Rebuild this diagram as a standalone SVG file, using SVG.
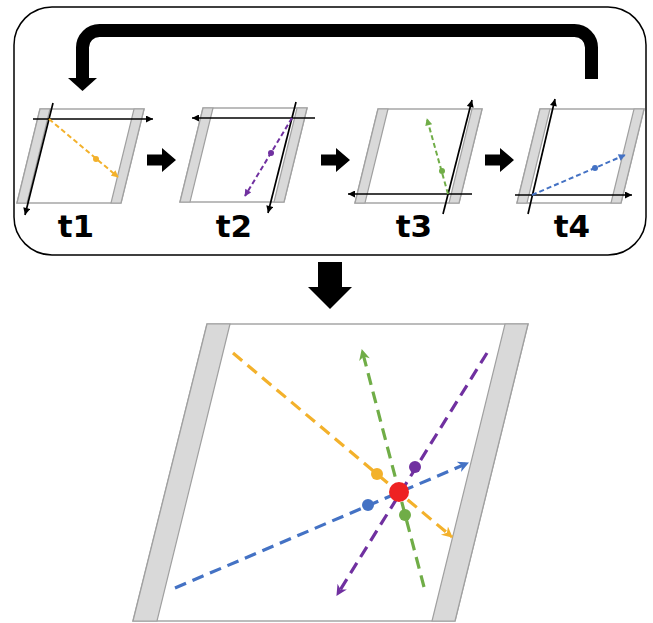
<svg xmlns="http://www.w3.org/2000/svg" width="653" height="623" viewBox="0 0 653 623">
<style>
.frame{fill:#fff;stroke:#a6a6a6;stroke-width:1.5}
.strip{fill:#d9d9d9;stroke:#a0a0a0;stroke-width:1.2}
.axis{fill:none;stroke:#000;stroke-width:1.7}
.sd{fill:none;stroke-width:2;stroke-dasharray:5 3}
.bd{fill:none;stroke-width:3.2;stroke-dasharray:12 7}
.lbl{font-family:"DejaVu Sans","Liberation Sans",sans-serif;font-weight:bold;font-size:31px;text-anchor:middle;fill:#000}
.or{stroke:#F3B12B}.pu{stroke:#7030A0}.gr{stroke:#70AD47}.bl{stroke:#4472C4}
</style>
<defs>
<marker id="mk" viewBox="0 0 10 10" refX="10" refY="5" markerWidth="8" markerHeight="7" markerUnits="userSpaceOnUse" orient="auto"><path d="M0,0L10,5L0,10z" fill="#000"/></marker>
<marker id="mo" viewBox="0 0 10 10" refX="9" refY="5" markerWidth="8" markerHeight="7" markerUnits="userSpaceOnUse" orient="auto"><path d="M0,0L10,5L0,10z" fill="#F3B12B"/></marker>
<marker id="mp" viewBox="0 0 10 10" refX="9" refY="5" markerWidth="8" markerHeight="7" markerUnits="userSpaceOnUse" orient="auto"><path d="M0,0L10,5L0,10z" fill="#7030A0"/></marker>
<marker id="mg" viewBox="0 0 10 10" refX="9" refY="5" markerWidth="8" markerHeight="7" markerUnits="userSpaceOnUse" orient="auto"><path d="M0,0L10,5L0,10z" fill="#70AD47"/></marker>
<marker id="mb" viewBox="0 0 10 10" refX="9" refY="5" markerWidth="8" markerHeight="7" markerUnits="userSpaceOnUse" orient="auto"><path d="M0,0L10,5L0,10z" fill="#4472C4"/></marker>
<marker id="Mo" viewBox="0 0 10 10" refX="9" refY="5" markerWidth="13" markerHeight="11" markerUnits="userSpaceOnUse" orient="auto"><path d="M0,0L10,5L0,10L3,5z" fill="#F3B12B"/></marker>
<marker id="Mp" viewBox="0 0 10 10" refX="9" refY="5" markerWidth="13" markerHeight="11" markerUnits="userSpaceOnUse" orient="auto"><path d="M0,0L10,5L0,10L3,5z" fill="#7030A0"/></marker>
<marker id="Mg" viewBox="0 0 10 10" refX="9" refY="5" markerWidth="13" markerHeight="11" markerUnits="userSpaceOnUse" orient="auto"><path d="M0,0L10,5L0,10L3,5z" fill="#70AD47"/></marker>
<marker id="Mb" viewBox="0 0 10 10" refX="9" refY="5" markerWidth="13" markerHeight="11" markerUnits="userSpaceOnUse" orient="auto"><path d="M0,0L10,5L0,10L3,5z" fill="#4472C4"/></marker>
<g id="panel">
<polygon class="frame" points="0,0 104,0 81,94 -23,94"/>
<polygon class="strip" points="0,0 10,0 -13,94 -23,94"/>
<polygon class="strip" points="94,0 104,0 81,94 71,94"/>
</g>
<polygon id="blk" points="0,-5.5 15,-5.5 15,-12 29,0 15,12 15,5.5 0,5.5" fill="#000"/>
</defs>

<rect x="14" y="7" width="632" height="248" rx="38" fill="#fff" stroke="#000" stroke-width="1.5"/>

<g id="loop-arrow">
<path d="M591.5,79V47.5A17,17 0 0 0 574.5,30.5H99.5A17,17 0 0 0 82.5,47.5V79" fill="none" stroke="#000" stroke-width="13"/>
<polygon points="68,78 97,78 82.5,91" fill="#000"/>
</g>

<g id="t1">
<use href="#panel" x="40" y="109"/>
<line class="axis" x1="33" y1="119" x2="153" y2="119" marker-end="url(#mk)"/>
<line class="axis" x1="53" y1="103" x2="25" y2="215" marker-end="url(#mk)"/>
<line class="sd or" x1="49" y1="119" x2="118" y2="177" marker-end="url(#mo)"/>
<circle cx="96" cy="159" r="3" fill="#F3B12B"/>
<text class="lbl" x="76" y="237">t1</text>
</g>

<g id="t2">
<use href="#panel" x="203" y="108"/>
<line class="axis" x1="315" y1="118" x2="192" y2="118" marker-end="url(#mk)"/>
<line class="axis" x1="296" y1="102" x2="268" y2="213" marker-end="url(#mk)"/>
<line class="sd pu" x1="292" y1="118" x2="245" y2="196" marker-end="url(#mp)"/>
<circle cx="271" cy="153" r="3" fill="#7030A0"/>
<text class="lbl" x="234" y="237">t2</text>
</g>

<g id="t3">
<use href="#panel" x="378" y="109"/>
<line class="axis" x1="472" y1="194" x2="348" y2="194" marker-end="url(#mk)"/>
<line class="axis" x1="443" y1="214" x2="472" y2="100" marker-end="url(#mk)"/>
<line class="sd gr" x1="448" y1="194" x2="427" y2="119" marker-end="url(#mg)"/>
<circle cx="442" cy="171" r="3" fill="#70AD47"/>
<text class="lbl" x="414" y="237">t3</text>
</g>

<g id="t4">
<use href="#panel" x="540" y="109"/>
<line class="axis" x1="515" y1="195" x2="632" y2="195" marker-end="url(#mk)"/>
<line class="axis" x1="528" y1="214" x2="555" y2="99" marker-end="url(#mk)"/>
<line class="sd bl" x1="532" y1="195" x2="625" y2="155" marker-end="url(#mb)"/>
<circle cx="595" cy="168" r="3" fill="#4472C4"/>
<text class="lbl" x="572" y="237">t4</text>
</g>

<g id="connectors">
<use href="#blk" x="147" y="160"/>
<use href="#blk" x="321" y="160"/>
<use href="#blk" x="485" y="160"/>
<polygon points="318,262 342,262 342,287 352,287 330,309 308,287 318,287" fill="#000"/>
</g>

<g id="result">
<polygon class="frame" points="207,324 528,324 455,621 133,621"/>
<polygon class="strip" points="207,324 230,324 157,621 133,621"/>
<polygon class="strip" points="505,324 528,324 455,621 432,621"/>
<line class="bd or" x1="233" y1="353" x2="452" y2="537" marker-end="url(#Mo)"/>
<line class="bd gr" x1="424" y1="587" x2="362" y2="350" marker-end="url(#Mg)"/>
<line class="bd pu" x1="487" y1="353" x2="337" y2="595" marker-end="url(#Mp)"/>
<line class="bd bl" x1="175" y1="588" x2="468" y2="463" marker-end="url(#Mb)"/>
<circle cx="377" cy="474" r="6" fill="#F3B12B"/>
<circle cx="405" cy="515" r="6" fill="#70AD47"/>
<circle cx="415" cy="467" r="6" fill="#7030A0"/>
<circle cx="368" cy="505" r="6" fill="#4472C4"/>
<circle cx="399" cy="492" r="10" fill="#EE2222"/>
</g>
</svg>
